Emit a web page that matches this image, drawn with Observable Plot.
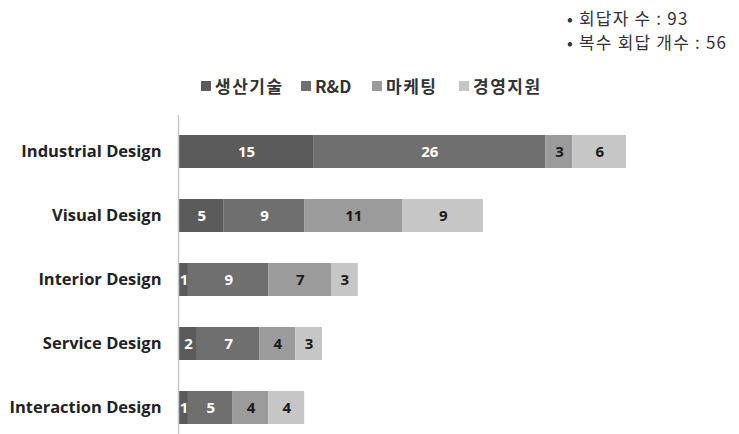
<!DOCTYPE html>
<html>
<head>
<meta charset="utf-8">
<script src="https://cdn.jsdelivr.net/npm/d3@7"></script>
<script src="https://cdn.jsdelivr.net/npm/@observablehq/plot@0.6"></script>
<style>
  body { margin: 0; background: #fff; }
  #wrap { position: relative; width: 739px; height: 434px; overflow: hidden; }
  #wrap svg { position: absolute; left: 0; top: 0; }
  .note { position: absolute; left: 567px; font-family: "Noto Sans CJK KR", sans-serif; font-size: 17px; color: #333; line-height: 1; white-space: nowrap; letter-spacing: 1.2px; }
  #legend { position: absolute; left: 201px; top: 76px; font-family: "Noto Sans CJK KR", sans-serif; font-weight: bold; font-size: 17px; color: #333; white-space: nowrap; line-height: 1.2; }
  #legend span.item { position: absolute; top: 0; display: inline-flex; align-items: center; }
  #legend span.sw { display: inline-block; width: 10px; height: 10px; margin-right: 4px; }
</style>
</head>
<body>
<div id="wrap"></div>
<script>
const categories = ["Industrial Design", "Visual Design", "Interior Design", "Service Design", "Interaction Design"];
const seriesNames = ["생산기술", "R&D", "마케팅", "경영지원"];
const production = [15, 5, 1, 2, 1];
const rnd = [26, 9, 9, 7, 5];
const marketing = [3, 11, 7, 4, 4];
const management = [6, 9, 3, 3, 4];
const notes = ["• 회답자 수 : 93", "• 복수 회답 개수 : 56"];
const colors = ["#5b5b5b", "#6f6f6f", "#9b9b9b", "#c6c6c6"];
const labelColors = ["#fff", "#fff", "#1a1a1a", "#1a1a1a"];

const seriesValues = [production, rnd, marketing, management];
const data = [];
categories.forEach((c, i) => {
  seriesNames.forEach((s, j) => {
    data.push({category: c, series: s, value: seriesValues[j][i], si: j});
  });
});

const chart = Plot.plot({
  width: 739,
  height: 434,
  marginLeft: 179,
  marginRight: 113,
  marginTop: 115,
  marginBottom: 0,
  style: {background: "transparent"},
  x: {domain: [0, 50], axis: null},
  y: {domain: categories, range: [117.6, 441.4], paddingInner: 0.49, paddingOuter: 0.245, label: null},
  color: {domain: seriesNames, range: colors},
  marks: [
    Plot.barX(data, {y: "category", x: "value", fill: "series", order: seriesNames}),
    Plot.textX(data, Plot.stackX({y: "category", x: "value", text: "value", order: seriesNames,
      fill: d => labelColors[d.si], fontWeight: "bold", fontSize: 15,
      fontFamily: "'Open Sans', sans-serif"})),
    Plot.ruleX([0], {stroke: "#c8c8c8", strokeWidth: 1.5, dx: -1}),
    Plot.axisY({tickSize: 0, tickPadding: 18, fontSize: 16.5, fontWeight: "bold",
      fontFamily: "'Open Sans', sans-serif", fill: "#222", label: null})
  ]
});
const wrap = document.getElementById("wrap");
wrap.appendChild(chart);

notes.forEach((t, i) => {
  const d = document.createElement("div");
  d.className = "note";
  d.style.top = (9 + i * 24) + "px";
  d.textContent = t;
  wrap.appendChild(d);
});

// legend item offsets (relative to legend's left edge)
const legendOffsets = [0, 100, 171, 258];
const leg = document.createElement("div");
leg.id = "legend";
seriesNames.forEach((s, j) => {
  const it = document.createElement("span");
  it.className = "item";
  it.style.left = legendOffsets[j] + "px";
  if (/[가-힣]/.test(s)) it.style.letterSpacing = "1.5px";
  const sw = document.createElement("span");
  sw.className = "sw";
  sw.style.background = colors[j];
  it.appendChild(sw);
  it.appendChild(document.createTextNode(s));
  leg.appendChild(it);
});
wrap.appendChild(leg);
</script>
</body>
</html>
